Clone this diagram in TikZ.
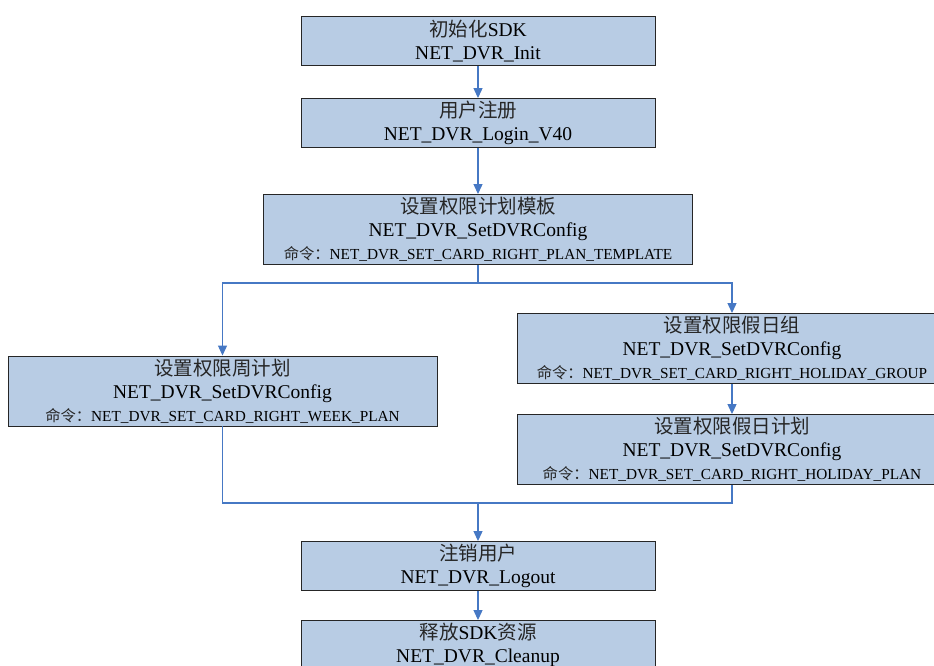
\documentclass[tikz,border=0pt]{standalone}
\usepackage{fontspec}
\setmainfont{Liberation Serif}
\newfontfamily\cjk{Noto Sans CJK SC}
\usetikzlibrary{arrows.meta}
\definecolor{boxfill}{RGB}{184,204,228}
\definecolor{linkblue}{RGB}{70,120,196}
\newcommand\zh[1]{{\cjk\color{black!85}#1}}
\newcommand\cmdline[1]{{\fontsize{15.3}{23}\selectfont\zh{命令：}#1}}
\tikzset{
  box/.style={draw=black!85, line width=0.9pt, fill=boxfill, align=center,
    inner sep=0pt, font=\fontsize{19.5}{23}\selectfont},
  smallbox/.style={box, minimum width=354pt, minimum height=49pt},
  bigbox/.style={box, minimum width=429pt, minimum height=70pt},
  link/.style={draw=linkblue, line width=1.2pt},
  flow/.style={link, -{Triangle[width=9pt,length=10pt]}},
}
\begin{document}
\begin{tikzpicture}[x=1pt,y=-1pt]
  \clip (0,0) rectangle (934,666);
  \fill[white] (0,0) rectangle (934,666);

  \node[smallbox] (init)   at (478,41)  {\zh{初始化}SDK\\NET\_DVR\_Init};
  \node[smallbox, yshift=-1.5pt] (login)  at (478,121.5) {\zh{用户注册}\\NET\_DVR\_Login\_V40};
  \node[bigbox]   (tmpl)   at (478,229.5)
    {\zh{设置权限计划模板}\\NET\_DVR\_SetDVRConfig\\\cmdline{NET\_DVR\_SET\_CARD\_RIGHT\_PLAN\_TEMPLATE}};
  \node[bigbox]   (week)   at (222.5,391)
    {\zh{设置权限周计划}\\NET\_DVR\_SetDVRConfig\\\cmdline{NET\_DVR\_SET\_CARD\_RIGHT\_WEEK\_PLAN}};
  \node[bigbox, minimum width=430pt] (hgroup) at (732,348.5)
    {\zh{设置权限假日组}\\NET\_DVR\_SetDVRConfig\\\cmdline{NET\_DVR\_SET\_CARD\_RIGHT\_HOLIDAY\_GROUP}};
  \node[bigbox, minimum width=430pt] (hplan)  at (732,449.5)
    {\zh{设置权限假日计划}\\NET\_DVR\_SetDVRConfig\\\cmdline{NET\_DVR\_SET\_CARD\_RIGHT\_HOLIDAY\_PLAN}};
  \node[smallbox] (logout) at (478,566) {\zh{注销用户}\\NET\_DVR\_Logout};
  \node[smallbox] (clean)  at (478,645) {\zh{释放}SDK\zh{资源}\\NET\_DVR\_Cleanup};

  \coordinate (split) at (478,283);
  \coordinate (merge) at (478,503);

  \draw[flow] (init) -- (login);
  \draw[flow] (login) -- (tmpl);
  \draw[link] (tmpl.south) -- (split);
  \draw[flow] (split) -| (week.north);
  \draw[flow] (split) -| (hgroup.north);
  \draw[flow] (hgroup) -- (hplan);
  \draw[link] (week.south) |- (merge);
  \draw[link] (hplan.south) |- (merge);
  \draw[flow] (merge) -- (logout);
  \draw[flow] (logout) -- (clean);
\end{tikzpicture}
\end{document}
